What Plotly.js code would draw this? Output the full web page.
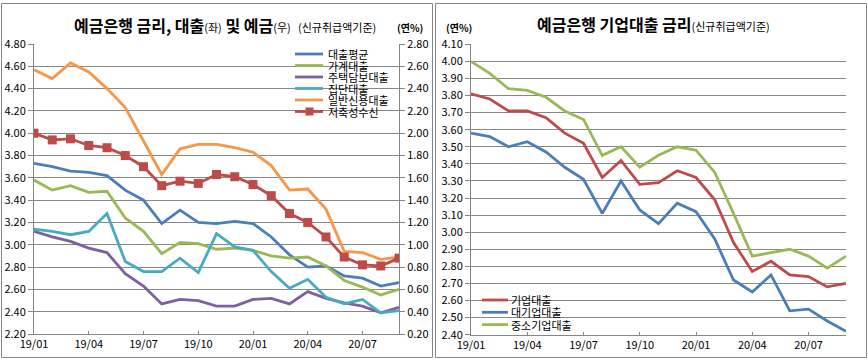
<!DOCTYPE html>
<html><head><meta charset="utf-8">
<script src="https://cdn.plot.ly/plotly-3.0.1.min.js"></script>
<style>html,body{margin:0;padding:0;background:#fff}#chart{width:868px;height:360px}</style>
</head><body><div id="chart"></div>
<script>
// ---- data ----
const months = ['19/01','19/02','19/03','19/04','19/05','19/06','19/07','19/08','19/09','19/10','19/11','19/12',
                '20/01','20/02','20/03','20/04','20/05','20/06','20/07','20/08','20/09'];
const tickMonths = ['19/01','19/04','19/07','19/10','20/01','20/04','20/07'];

const leftNames = ['대출평균','가계대출','주택담보대출','집단대출','일반신용대출','저축성수신'];
const loanAvg   = [3.73,3.70,3.66,3.65,3.62,3.49,3.40,3.19,3.31,3.20,3.19,3.21,3.19,3.07,2.91,2.80,2.81,2.72,2.70,2.63,2.66];
const household = [3.58,3.49,3.53,3.47,3.48,3.24,3.12,2.92,3.02,3.01,2.96,2.97,2.95,2.90,2.88,2.89,2.81,2.68,2.62,2.55,2.60];
const mortgage  = [3.12,3.07,3.03,2.97,2.93,2.74,2.63,2.47,2.51,2.50,2.45,2.45,2.51,2.52,2.47,2.58,2.52,2.48,2.45,2.39,2.44];
const groupLoan = [3.14,3.12,3.09,3.12,3.28,2.85,2.76,2.76,2.88,2.75,3.10,2.98,2.95,2.76,2.61,2.69,2.53,2.47,2.51,2.39,2.41];
const credit    = [4.57,4.49,4.63,4.55,4.40,4.23,3.93,3.63,3.86,3.90,3.90,3.87,3.83,3.71,3.49,3.50,3.32,2.94,2.93,2.87,2.89];
const savings   = [2.00,1.94,1.95,1.89,1.87,1.80,1.70,1.53,1.57,1.55,1.63,1.61,1.54,1.44,1.28,1.20,1.07,0.89,0.82,0.81,0.88];

const rightNames = ['기업대출','대기업대출','중소기업대출'];
const corp  = [3.81,3.78,3.71,3.71,3.67,3.58,3.52,3.32,3.42,3.28,3.29,3.36,3.32,3.19,2.94,2.77,2.83,2.75,2.74,2.68,2.70];
const large = [3.58,3.56,3.50,3.53,3.47,3.38,3.31,3.11,3.30,3.13,3.05,3.17,3.12,2.96,2.72,2.65,2.75,2.54,2.55,2.48,2.42];
const sme   = [4.00,3.93,3.84,3.83,3.79,3.71,3.66,3.45,3.50,3.38,3.45,3.50,3.48,3.35,3.11,2.86,2.88,2.90,2.86,2.79,2.86];

// ---- styling ----
const W = 868, H = 360;
const fx = X => X / W, fy = Y => 1 - Y / H;
const FONT = '"Noto Sans CJK KR", "Noto Sans", sans-serif';
const GRID = '#868686';
const leftColors = ['#4a7ebb','#98b954','#7d60a0','#46aac5','#f79646','#be4b48'];
const rightColors = ['#be4b48','#4a7ebb','#98b954'];
const LW = 2.8;

const leftSeries = [loanAvg, household, mortgage, groupLoan, credit];
const traces = [];
leftSeries.forEach((s, i) => traces.push({
  x: months, y: s, type: 'scatter', mode: 'lines', name: leftNames[i],
  line: {color: leftColors[i], width: LW}, xaxis: 'x', yaxis: 'y'
}));
traces.push({
  x: months, y: savings, type: 'scatter', mode: 'lines+markers', name: leftNames[5],
  line: {color: leftColors[5], width: LW},
  marker: {symbol: 'square', size: 9, color: leftColors[5]},
  xaxis: 'x', yaxis: 'y2'
});
[corp, large, sme].forEach((s, i) => traces.push({
  x: months, y: s, type: 'scatter', mode: 'lines', name: rightNames[i],
  line: {color: rightColors[i], width: LW}, xaxis: 'x2', yaxis: 'y3'
}));

const xBase = {
  type: 'category', range: [0, 20], tickmode: 'array', tickvals: tickMonths, ticktext: tickMonths,
  ticks: 'inside', ticklen: 3, tickcolor: GRID, showline: true, linecolor: GRID, linewidth: 1,
  showgrid: false, zeroline: false, tickfont: {size: 11, color: '#000'}, fixedrange: true
};
const yBase = {
  tickformat: '.2f', ticks: 'outside', ticklen: 5, tickcolor: GRID, showline: true, linecolor: GRID,
  linewidth: 1, zeroline: false, tickfont: {size: 11, color: '#000'}, fixedrange: true
};

const shapes = [
  {type: 'rect', xref: 'paper', yref: 'paper', x0: fx(1.5), x1: fx(432.5), y0: fy(357.5), y1: fy(3.5),
   line: {color: GRID, width: 1}, layer: 'above'},
  {type: 'rect', xref: 'paper', yref: 'paper', x0: fx(435.5), x1: fx(866.5), y0: fy(357.5), y1: fy(3.5),
   line: {color: GRID, width: 1}, layer: 'above'}
];
const annotations = [];

// left legend
const lRows = [54, 65.5, 77, 88.5, 100, 111.5];
leftNames.forEach((n, i) => {
  shapes.push({type: 'line', xref: 'paper', yref: 'paper', x0: fx(295), x1: fx(323), y0: fy(lRows[i]), y1: fy(lRows[i]),
    line: {color: leftColors[i], width: LW}});
  annotations.push({xref: 'paper', yref: 'paper', x: fx(326), y: fy(lRows[i]), xanchor: 'left', yanchor: 'middle',
    text: n, showarrow: false, font: {size: 11, color: '#000', family: FONT}});
});
shapes.push({type: 'rect', xref: 'paper', yref: 'paper', x0: fx(305.5), x1: fx(313.5), y0: fy(lRows[5] + 4), y1: fy(lRows[5] - 4),
  fillcolor: leftColors[5], line: {width: 0}});

// right legend
const rRows = [300, 312.3, 324.6];
rightNames.forEach((n, i) => {
  shapes.push({type: 'line', xref: 'paper', yref: 'paper', x0: fx(482), x1: fx(508), y0: fy(rRows[i]), y1: fy(rRows[i]),
    line: {color: rightColors[i], width: LW}});
  annotations.push({xref: 'paper', yref: 'paper', x: fx(509), y: fy(rRows[i]), xanchor: 'left', yanchor: 'middle',
    text: n, showarrow: false, font: {size: 11, color: '#000', family: FONT}});
});

// titles
annotations.push({xref: 'paper', yref: 'paper', x: fx(225), y: fy(25), xanchor: 'center', yanchor: 'middle', showarrow: false,
  text: '<b>예금은행 금리, 대출</b><span style="font-size:11px">(좌)</span><b> 및 예금</b><span style="font-size:11px">(우)</span>  <span style="font-size:11px">(신규취급액기준)</span>',
  font: {size: 16, color: '#000', family: FONT}});
annotations.push({xref: 'paper', yref: 'paper', x: fx(410), y: fy(28), xanchor: 'center', yanchor: 'middle', showarrow: false,
  text: '<b>(연%)</b>', font: {size: 10, color: '#000', family: FONT}});
annotations.push({xref: 'paper', yref: 'paper', x: fx(653), y: fy(24), xanchor: 'center', yanchor: 'middle', showarrow: false,
  text: '<b>예금은행 기업대출 금리</b><span style="font-size:11px">(신규취급액기준)</span>',
  font: {size: 16, color: '#000', family: FONT}});
annotations.push({xref: 'paper', yref: 'paper', x: fx(459), y: fy(28), xanchor: 'center', yanchor: 'middle', showarrow: false,
  text: '<b>(연%)</b>', font: {size: 10, color: '#000', family: FONT}});

const layout = {
  width: W, height: H, margin: {l: 0, r: 0, t: 0, b: 0},
  paper_bgcolor: '#fff', plot_bgcolor: 'rgba(0,0,0,0)', showlegend: false,
  font: {family: FONT, color: '#000', size: 11},
  xaxis: Object.assign({}, xBase, {domain: [fx(34), fx(399)], anchor: 'y'}),
  yaxis: Object.assign({}, yBase, {domain: [fy(334), fy(44)], range: [2.2, 4.8], dtick: 0.2, tick0: 2.2,
    showgrid: true, gridcolor: GRID, gridwidth: 1, anchor: 'x'}),
  yaxis2: Object.assign({}, yBase, {overlaying: 'y', side: 'right', anchor: 'x', range: [0.2, 2.8], dtick: 0.2, tick0: 0.2,
    showgrid: false}),
  xaxis2: Object.assign({}, xBase, {domain: [fx(471), fx(846)], anchor: 'y3', showline: true}),
  yaxis3: Object.assign({}, yBase, {domain: [fy(334.7), fy(44.3)], range: [2.4, 4.1], dtick: 0.1, tick0: 2.4,
    showgrid: true, gridcolor: GRID, gridwidth: 1, anchor: 'x2'}),
  shapes: shapes, annotations: annotations
};

Plotly.newPlot('chart', traces, layout, {displayModeBar: false, staticPlot: true});
</script></body></html>
